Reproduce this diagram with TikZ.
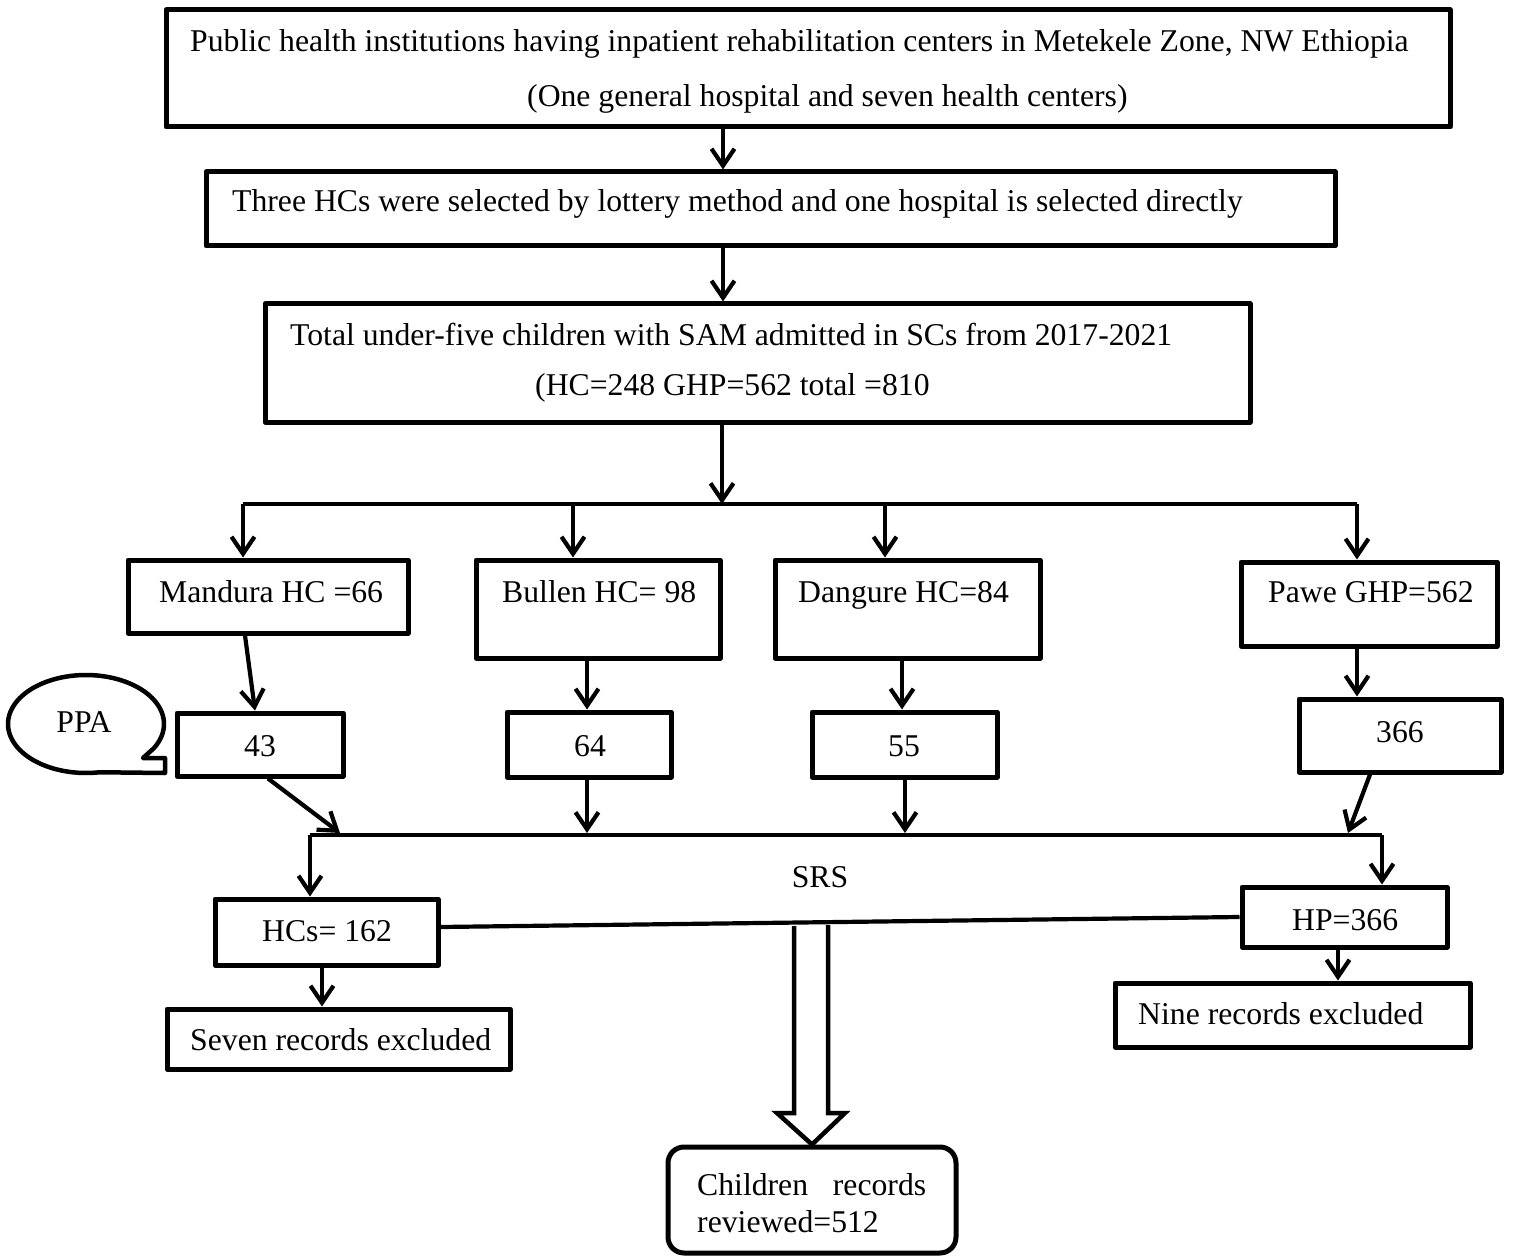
\documentclass[tikz,border=0pt]{standalone}
\usepackage{fontspec}
\setmainfont{Liberation Serif}
\usetikzlibrary{arrows.meta}
\begin{document}
\begin{tikzpicture}[x=1pt,y=-1pt,
  font=\fontsize{31.7}{38}\selectfont,
  box/.style={draw, line width=5pt, line join=round, inner sep=0pt},
  lbl/.style={inner sep=0pt},
  conn/.style={line width=4.2pt},
  arr/.style={conn, -{Straight Barb[length=17pt,width=23pt]}}]
\useasboundingbox (0,0) rectangle (1513,1257);

% boxes
\node[box, minimum width=1284pt, minimum height=117pt] (b1) at (808,68.5) {};
\node[box, minimum width=1129pt, minimum height=74pt] (b2) at (770.5,209) {};
\node[box, minimum width=985pt, minimum height=118pt] (b3) at (757.5,363) {};
\node[box, minimum width=280pt, minimum height=73pt] (mand) at (268,596.5) {};
\node[box, minimum width=244pt, minimum height=98pt] (bull) at (598,609) {};
\node[box, minimum width=265pt, minimum height=98pt] (dang) at (907.5,609) {};
\node[box, minimum width=256pt, minimum height=84pt] (pawe) at (1369,604) {};
\node[box, minimum width=166pt, minimum height=63pt] (b43) at (260,744.5) {};
\node[box, minimum width=164pt, minimum height=65pt] (b64) at (589,744.5) {};
\node[box, minimum width=185pt, minimum height=65pt] (b55) at (904.5,744.5) {};
\node[box, minimum width=202pt, minimum height=73pt] (b366) at (1400,735.5) {};
\node[box, minimum width=223pt, minimum height=66pt] (hcs) at (326.5,932) {};
\node[box, minimum width=205pt, minimum height=60pt] (hp) at (1344.5,917) {};
\node[box, minimum width=343pt, minimum height=60pt] (seven) at (338.5,1039) {};
\node[box, minimum width=355pt, minimum height=64pt] (nine) at (1292.5,1015) {};
\node[box, rounded corners=16pt, minimum width=288pt, minimum height=106pt] (child) at (812,1200) {};

% texts
\node[lbl, anchor=base west] (t1a) at (190,52) {Public health institutions having inpatient rehabilitation centers in Metekele Zone, NW Ethiopia};
\node[lbl, anchor=base west] (t1b) at (527,107) {(One general hospital and seven health centers)};
\node[lbl, anchor=base west] (t2) at (232,212) {Three HCs were selected by lottery method and one hospital is selected directly};
\node[lbl, anchor=base west] (t3a) at (290,345) {Total under-five children with SAM admitted in SCs from 2017-2021};
\node[lbl, anchor=base west] (t3b) at (535,395) {(HC=248 GHP=562 total =810};
\node[lbl, anchor=base west] (tm) at (159,602) {Mandura HC =66};
\node[lbl, anchor=base west] (tb) at (502,602) {Bullen HC= 98};
\node[lbl, anchor=base west] (td) at (798,602) {Dangure HC=84};
\node[lbl, anchor=base west] (tp) at (1268,602) {Pawe GHP=562};
\node[lbl, anchor=base] (t43) at (260,756) {43};
\node[lbl, anchor=base] (t64) at (590,756) {64};
\node[lbl, anchor=base] (t55) at (904,756) {55};
\node[lbl, anchor=base] (t366) at (1400,742) {366};
\node[lbl, anchor=base] (ppa) at (84,732) {PPA};
\node[lbl, anchor=base] (srs) at (820,887) {SRS};
\node[lbl, anchor=base west] (thcs) at (262,941) {HCs= 162};
\node[lbl, anchor=base west] (thp) at (1292,930) {HP=366};
\node[lbl, anchor=base west] (tseven) at (190,1050) {Seven records excluded};
\node[lbl, anchor=base west] (tnine) at (1138,1024) {Nine records excluded};
\node[lbl, anchor=base west] (tch1) at (697,1195) {\makebox[229pt][s]{Children\hfill records}};
\node[lbl, anchor=base west] (tch2) at (697,1232) {reviewed=512};

% PPA callout
\draw[line width=4.5pt, line join=round]
  plot[domain=30:-280, samples=100] ({86+78*cos(\x)},{724+49*sin(\x)})
  -- (165,773) -- (165,758) -- (143,758) -- cycle;

% coordinates
\coordinate (j1) at (722,504);
\coordinate (bl) at (243,504);
\coordinate (bb) at (573,504);
\coordinate (bd) at (885,504);
\coordinate (br) at (1357,504);
\coordinate (cl) at (310,835);
\coordinate (cr) at (1382,835);
\coordinate (c43) at (340,833);
\coordinate (c64) at (587,833);
\coordinate (c55) at (905,833);
\coordinate (c366) at (1348,833);

% top arrows
\draw[arr] (b1.south -| 723,0) -- (b2.north -| 723,0);
\draw[arr] (b2.south -| 723,0) -- (b3.north -| 723,0);
\draw[arr] (b3.south -| j1) -- (j1);
\draw[conn] (bl) -- (br);
\draw[arr] (bl) -- (bl |- mand.north);
\draw[arr] (bb) -- (bb |- bull.north);
\draw[arr] (bd) -- (bd |- dang.north);
\draw[arr] (br) -- (br |- pawe.north);

% second level
\draw[arr] ([xshift=-23pt]mand.south) -- ([xshift=-5pt]b43.north);
\draw[arr] (bull.south -| 587,0) -- (b64.north -| 587,0);
\draw[arr] (dang.south -| 902,0) -- (b55.north -| 902,0);
\draw[arr] (pawe.south -| 1357,0) -- (b366.north -| 1357,0);

\draw[arr] ([xshift=8pt]b43.south) -- (c43);
\draw[arr] (b64.south -| c64) -- (c64);
\draw[arr] (b55.south -| c55) -- (c55);
\draw[arr] ([xshift=-30pt]b366.south) -- (c366);

\draw[conn] (cl) -- (cr);
\draw[arr] (cl) -- (cl |- hcs.north);
\draw[arr] (cr) -- (cr |- hp.north);

\draw[conn] ([yshift=5pt]hcs.east) -- (hp.west);

\draw[arr] (hcs.south -| 322,0) -- (seven.north -| 322,0);
\draw[arr] (hp.south -| 1338,0) -- (nine.north -| 1338,0);

% double arrow
\draw[line width=4.5pt, line join=miter, fill=white]
  (794,926) -- (794,1113) -- (777,1113) -- (child.north) -- (845,1113) -- (828,1113) -- (828,925);
\end{tikzpicture}
\end{document}
